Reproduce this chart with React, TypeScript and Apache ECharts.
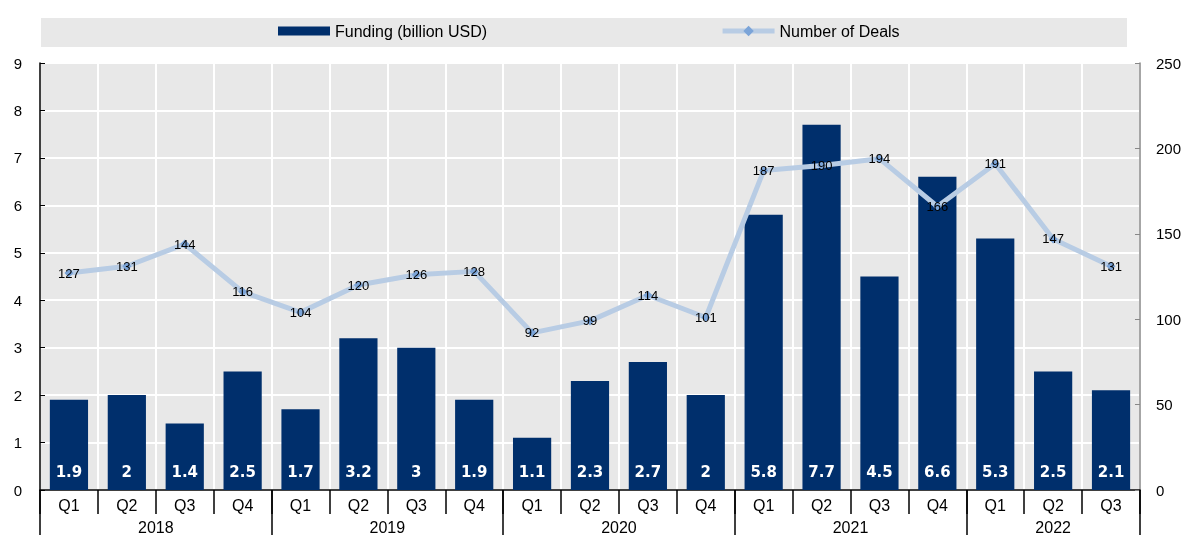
import React, { useEffect, useRef } from "react";
import * as echarts from "echarts";

const quarters = ["Q1","Q2","Q3","Q4","Q1","Q2","Q3","Q4","Q1","Q2","Q3","Q4","Q1","Q2","Q3","Q4","Q1","Q2","Q3"];
const years = ["2018", "2019", "2020", "2021", "2022"];
const quartersPerYear = [4, 4, 4, 4, 3];
const funding = [1.9, 2, 1.4, 2.5, 1.7, 3.2, 3, 1.9, 1.1, 2.3, 2.7, 2, 5.8, 7.7, 4.5, 6.6, 5.3, 2.5, 2.1];
const deals = [127, 131, 144, 116, 104, 120, 126, 128, 92, 99, 114, 101, 187, 190, 194, 166, 191, 147, 131];
const leftTicks = { min: 0, max: 9, interval: 1 };
const rightTicks = { min: 0, max: 250, interval: 50 };

const FONT = "'Liberation Sans', Arial, sans-serif";

export default function App() {
  const ref = useRef<HTMLDivElement>(null);
  useEffect(() => {
    if (!ref.current) return;
    const chart = echarts.init(ref.current, null, { renderer: "svg" });

    // year axis built on half-quarter points
    const totalHalf = quarters.length * 2;
    const yearData: string[] = new Array(totalHalf + 1).fill("");
    const boundaries = new Set<number>([0]);
    let pos = 0;
    years.forEach((y, i) => {
      const span = quartersPerYear[i] * 2;
      yearData[pos + span / 2] = y;
      pos += span;
      boundaries.add(pos);
    });

    const L = 40, R = 1140, T = 63, B = 490;

    chart.setOption({
      animation: false,
      textStyle: { fontFamily: FONT },
      graphic: [
        {
          type: "rect",
          z: -10,
          shape: { x: 41, y: 18, width: 1086, height: 29 },
          style: { fill: "#e8e8e8" },
        },
      ],
      legend: {
        top: 23,
        left: 278,
        padding: 0,
        itemGap: 233,
        itemWidth: 52,
        itemHeight: 13,
        textStyle: { fontSize: 16, color: "#000", fontFamily: FONT },
        data: [
          { name: "Funding (billion USD)", icon: "path://M0,0H52V9H0Z" },
          {
            name: "Number of Deals",
            lineStyle: { width: 5, color: "#b8cce4" },
            itemStyle: { color: "#7ba4d8" },
          },
        ],
      },
      grid: {
        left: L,
        right: 1184 - R,
        top: T,
        bottom: 535 - B,
        show: true,
        backgroundColor: "#e8e8e8",
        borderWidth: 0,
      },
      xAxis: [
        {
          type: "category",
          data: quarters,
          position: "bottom",
          axisLine: { show: true, lineStyle: { color: "#000", width: 1.5 } },
          axisTick: { show: true, length: 24, lineStyle: { color: "#000", width: 1.5 } },
          axisLabel: { color: "#000", fontSize: 16, margin: 7, fontFamily: FONT, interval: 0 },
          splitLine: { show: true, lineStyle: { color: "#fff", width: 2 } },
        },
        {
          type: "category",
          data: yearData,
          position: "bottom",
          boundaryGap: false,
          axisLine: { show: false },
          axisTick: {
            show: true,
            length: 45,
            interval: (idx: number) => boundaries.has(idx),
            lineStyle: { color: "#000", width: 1.5 },
          },
          axisLabel: {
            color: "#000",
            fontSize: 16,
            margin: 29,
            fontFamily: FONT,
            interval: (idx: number) => yearData[idx] !== "",
          },
          splitLine: { show: false },
        },
      ],
      yAxis: [
        {
          type: "value",
          min: leftTicks.min,
          max: leftTicks.max,
          interval: leftTicks.interval,
          position: "left",
          axisLine: { show: true, lineStyle: { color: "#000", width: 1.5 } },
          axisTick: { show: true, inside: true, length: 5, lineStyle: { color: "#000" } },
          axisLabel: { color: "#000", fontSize: 15, margin: 18, fontFamily: FONT },
          splitLine: { show: true, lineStyle: { color: "#fff", width: 2 } },
        },
        {
          type: "value",
          min: rightTicks.min,
          max: rightTicks.max,
          interval: rightTicks.interval,
          position: "right",
          axisLine: { show: true, lineStyle: { color: "#888", width: 1.5 } },
          axisTick: { show: true, inside: true, length: 5, lineStyle: { color: "#888" } },
          axisLabel: { color: "#000", fontSize: 15, margin: 16, fontFamily: FONT },
          splitLine: { show: false },
        },
      ],
      series: [
        {
          name: "Funding (billion USD)",
          type: "bar",
          xAxisIndex: 0,
          yAxisIndex: 0,
          data: funding,
          barWidth: "66%",
          itemStyle: { color: "#002f6c" },
          label: {
            show: true,
            position: "insideBottom",
            distance: 11,
            color: "#fff",
            fontSize: 15,
            fontWeight: "bold",
            fontFamily: "'DejaVu Sans', Verdana, sans-serif",
          },
          z: 2,
        },
        {
          name: "Number of Deals",
          type: "line",
          xAxisIndex: 0,
          yAxisIndex: 1,
          data: deals,
          symbol: "diamond",
          symbolSize: 9,
          lineStyle: { color: "#b8cce4", width: 5 },
          itemStyle: { color: "#7ba4d8" },
          label: {
            show: true,
            position: "inside",
            color: "#000",
            fontSize: 13,
            fontFamily: FONT,
          },
          z: 3,
        },
      ],
    });
    return () => chart.dispose();
  }, []);
  return (
    <div
      ref={ref}
      style={{ position: "fixed", left: 0, top: 0, width: 1184, height: 535 }}
    />
  );
}
